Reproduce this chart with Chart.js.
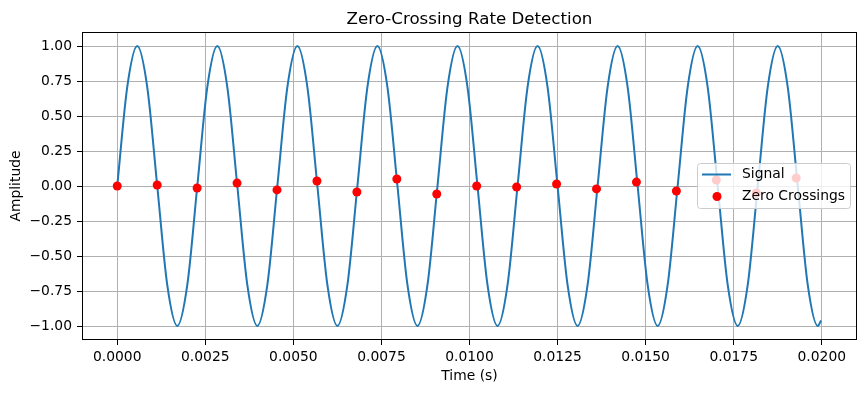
<!DOCTYPE html>
<html><head><meta charset="utf-8">
<script src="https://cdn.jsdelivr.net/npm/chart.js@4/dist/chart.umd.min.js"></script>
<style>html,body{margin:0;padding:0;background:#fff;}canvas{display:block;}</style>
</head><body>
<canvas id="c" width="866" height="393"></canvas>
<script>
const titleText = 'Zero-Crossing Rate Detection';
const xLabel = 'Time (s)';
const yLabel = 'Amplitude';
const seriesNames = ['Signal', 'Zero Crossings'];

const signalTime = [
  0.000000, 0.000284, 0.000568, 0.000852, 0.001136, 0.001420, 0.001705, 0.001989,
  0.002273, 0.002557, 0.002841, 0.003125, 0.003409, 0.003693, 0.003977, 0.004261,
  0.004545, 0.004830, 0.005114, 0.005398, 0.005682, 0.005966, 0.006250, 0.006534,
  0.006818, 0.007102, 0.007386, 0.007670, 0.007955, 0.008239, 0.008523, 0.008807,
  0.009091, 0.009375, 0.009659, 0.009943, 0.010227, 0.010511, 0.010795, 0.011080,
  0.011364, 0.011648, 0.011932, 0.012216, 0.012500, 0.012784, 0.013068, 0.013352,
  0.013636, 0.013920, 0.014205, 0.014489, 0.014773, 0.015057, 0.015341, 0.015625,
  0.015909, 0.016193, 0.016477, 0.016761, 0.017045, 0.017330, 0.017614, 0.017898,
  0.018182, 0.018466, 0.018750, 0.019034, 0.019318, 0.019602, 0.019886, 0.019980
];
const signalAmp = [
  0, 0.707, 1, 0.707, 0, -0.707, -1, -0.707,
  0, 0.707, 1, 0.707, 0, -0.707, -1, -0.707,
  0, 0.707, 1, 0.707, 0, -0.707, -1, -0.707,
  0, 0.707, 1, 0.707, 0, -0.707, -1, -0.707,
  0, 0.707, 1, 0.707, 0, -0.707, -1, -0.707,
  0, 0.707, 1, 0.707, 0, -0.707, -1, -0.707,
  0, 0.707, 1, 0.707, 0, -0.707, -1, -0.707,
  0, 0.707, 1, 0.707, 0, -0.707, -1, -0.707,
  0, 0.707, 1, 0.707, 0, -0.707, -1, -0.96
];
const crossingTime = [
  0.000000, 0.001134, 0.002268, 0.003401, 0.004535, 0.005669, 0.006803, 0.007937, 0.009070,
  0.010204, 0.011338, 0.012472, 0.013605, 0.014739, 0.015873, 0.017007, 0.018141, 0.019274
];
const crossingAmp = [
  0.000, 0.007, -0.014, 0.021, -0.028, 0.036, -0.043, 0.050, -0.057,
  0.000, -0.007, 0.014, -0.021, 0.028, -0.036, 0.043, -0.050, 0.057
];
const xTicks = [0, 0.0025, 0.005, 0.0075, 0.01, 0.0125, 0.015, 0.0175, 0.02];
const yTicks = [-1, -0.75, -0.5, -0.25, 0, 0.25, 0.5, 0.75, 1];

const FONT = "'DejaVu Sans', sans-serif";
const LINE_COLOR = '#1f77b4';
const DOT_COLOR = '#ff0000';
Chart.defaults.font.family = FONT;
Chart.defaults.color = '#000';

function fmt(v, d) {
  let s = Math.abs(v) < 1e-12 ? (0).toFixed(d) : v.toFixed(d);
  return s.replace('-', '\u2212');
}

const framePlugin = {
  id: 'frame',
  afterDatasetsDraw(chart) {
    const {ctx, chartArea: a} = chart;
    ctx.save();
    ctx.strokeStyle = '#000';
    ctx.lineWidth = 1;
    ctx.strokeRect(Math.round(a.left) + 0.5, Math.round(a.top) + 0.5,
                   Math.round(a.right - a.left) - 1, Math.round(a.bottom - a.top) - 1);
    ctx.restore();
  }
};

const titlePlugin = {
  id: 'mplTitle',
  afterDraw(chart) {
    const {ctx, chartArea: a} = chart;
    ctx.save();
    ctx.font = `16.67px ${FONT}`;
    ctx.fillStyle = '#000';
    ctx.textAlign = 'center';
    ctx.textBaseline = 'alphabetic';
    ctx.fillText(titleText, (a.left + a.right) / 2, 23.5);
    ctx.restore();
  }
};

const legendPlugin = {
  id: 'mplLegend',
  afterDraw(chart) {
    const {ctx} = chart;
    const x = 697, y = 163, w = 153, h = 45, r = 3;
    ctx.save();
    ctx.beginPath();
    ctx.roundRect(x + 0.5, y + 0.5, w, h, r);
    ctx.fillStyle = 'rgba(255,255,255,0.8)';
    ctx.fill();
    ctx.strokeStyle = '#cccccc';
    ctx.lineWidth = 1;
    ctx.stroke();
    ctx.beginPath();
    ctx.moveTo(702, 174.5);
    ctx.lineTo(731, 174.5);
    ctx.strokeStyle = LINE_COLOR;
    ctx.lineWidth = 2;
    ctx.stroke();
    ctx.beginPath();
    ctx.arc(717, 196.5, 4.5, 0, Math.PI * 2);
    ctx.fillStyle = DOT_COLOR;
    ctx.fill();
    ctx.fillStyle = '#000';
    ctx.font = `13.89px ${FONT}`;
    ctx.textAlign = 'left';
    ctx.textBaseline = 'middle';
    ctx.fillText(seriesNames[0], 742, 174.5);
    ctx.fillText(seriesNames[1], 742, 196);
    ctx.restore();
  }
};

new Chart(document.getElementById('c'), {
  type: 'scatter',
  data: {
    datasets: [
      {
        label: seriesNames[1],
        data: crossingTime.map((t, i) => ({x: t, y: crossingAmp[i]})),
        backgroundColor: DOT_COLOR,
        borderColor: DOT_COLOR,
        pointRadius: 4.5,
        pointHoverRadius: 4.5,
        borderWidth: 0,
        order: 0
      },
      {
        label: seriesNames[0],
        data: signalTime.map((t, i) => ({x: t, y: signalAmp[i]})),
        showLine: true,
        borderColor: LINE_COLOR,
        borderWidth: 2,
        pointRadius: 0,
        pointHoverRadius: 0,
        cubicInterpolationMode: 'monotone',
        fill: false,
        order: 1
      }
    ]
  },
  options: {
    responsive: false,
    animation: false,
    events: [],
    layout: {padding: {top: 32, right: 9, left: 0, bottom: 0}},
    plugins: {legend: {display: false}, title: {display: false}, tooltip: {enabled: false}},
    scales: {
      x: {
        type: 'linear',
        min: -0.001,
        max: 0.021,
        afterBuildTicks: s => { s.ticks = xTicks.map(v => ({value: v})); },
        afterFit: s => { s.height = 53; },
        ticks: {
          callback: v => fmt(v, 4),
          font: {size: 13.89, family: FONT},
          color: '#000',
          padding: 4,
          maxRotation: 0,
          autoSkip: false
        },
        grid: {color: '#b0b0b0', lineWidth: 1, tickColor: '#000', tickLength: 5, tickWidth: 1},
        border: {display: false},
        title: {display: true, text: xLabel, font: {size: 13.89, family: FONT}, color: '#000', padding: {top: 0, bottom: 8.7}}
      },
      y: {
        type: 'linear',
        min: -1.1,
        max: 1.1,
        afterBuildTicks: s => { s.ticks = yTicks.map(v => ({value: v})); },
        afterFit: s => { s.width = 82; },
        ticks: {
          callback: v => fmt(v, 2),
          font: {size: 13.89, family: FONT},
          color: '#000',
          padding: 5,
          autoSkip: false
        },
        grid: {color: '#b0b0b0', lineWidth: 1, tickColor: '#000', tickLength: 5, tickWidth: 1},
        border: {display: false},
        title: {display: true, text: yLabel, font: {size: 13.89, family: FONT}, color: '#000', padding: {top: 7.7, bottom: 0}}
      }
    }
  },
  plugins: [framePlugin, titlePlugin, legendPlugin]
});
</script>
</body></html>
